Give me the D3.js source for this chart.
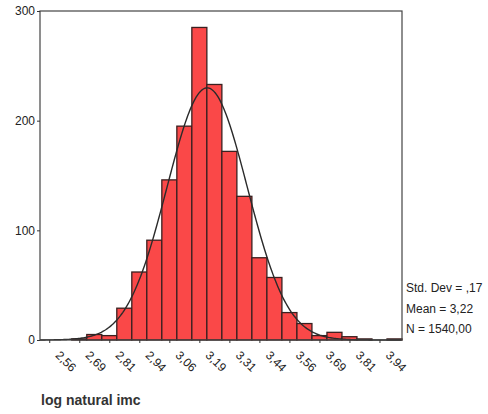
<!DOCTYPE html>
<html>
<head>
<meta charset="utf-8">
<script src="https://cdn.jsdelivr.net/npm/d3@7"></script>
<style>
    body { margin: 0; background: #fff; }
    svg { font-family: Arial, "Liberation Sans", sans-serif; }
    .axis text { fill: #222; font-size: 12px; }
    .axis line { stroke: #333; }
    .axis path { display: none; }
</style>
</head>
<body>
<script>
// histogram bins (centres)
var binCenters = [2.5625, 2.625, 2.6875, 2.75, 2.8125, 2.875, 2.9375, 3.0,
    3.0625, 3.125, 3.1875, 3.25, 3.3125, 3.375, 3.4375, 3.5, 3.5625, 3.625,
    3.6875, 3.75, 3.8125, 3.875, 3.9375, 4.0];
var counts = [0, 0, 1, 5, 4, 29, 62, 91, 146, 195, 285, 233, 172, 131,
    75, 57, 25, 15, 4, 7, 3, 1, 0, 1];
var tickValues = [2.5625, 2.6875, 2.8125, 2.9375, 3.0625, 3.1875, 3.3125,
    3.4375, 3.5625, 3.6875, 3.8125, 3.9375];
var tickLabels = ['2,56', '2,69', '2,81', '2,94', '3,06', '3,19', '3,31',
    '3,44', '3,56', '3,69', '3,81', '3,94'];
var yTicks = [0, 100, 200, 300];
var statLines = ['Std. Dev = ,17', 'Mean = 3,22', 'N = 1540,00'];
var stdDev = 0.167,
    mean = 3.22,
    n = 1540,
    binWidth = 0.0625;

(function() {
    var w = 488,
        h = 414;
    var left = 40, right = 402, top = 11, bottom = 340;

    var svg = d3.select('body')
        .append('svg')
        .attr('width', w)
        .attr('height', h);
    svg.append('rect')
        .attr('width', w)
        .attr('height', h)
        .attr('fill', '#fff');

    var x = d3.scaleLinear()
        .domain([2.524, 4.03125])
        .range([left, right]);
    var y = d3.scaleLinear()
        .domain([0, 300])
        .range([bottom, top]);

    // bars
    svg.append('g')
        .selectAll('rect')
        .data(counts)
        .enter()
        .append('rect')
        .attr('x', function(d, i) { return x(binCenters[i] - binWidth / 2); })
        .attr('width', function(d, i) { return x(binCenters[i] + binWidth / 2) - x(binCenters[i] - binWidth / 2); })
        .attr('y', function(d) { return y(d); })
        .attr('height', function(d) { return y(0) - y(d); })
        .attr('fill', '#fa4848')
        .attr('stroke', '#3a2020')
        .attr('stroke-width', 1.3);

    // normal curve from the stats shown on the right
    var pdf = function(v) {
        return n * binWidth * Math.exp(-0.5 * Math.pow((v - mean) / stdDev, 2)) /
            (stdDev * Math.sqrt(2 * Math.PI));
    };
    var xs = d3.range(x.domain()[0], x.domain()[1], 0.005);
    svg.append('path')
        .datum(xs)
        .attr('d', d3.line()
            .x(function(d) { return x(d); })
            .y(function(d) { return y(pdf(d)); }))
        .attr('fill', 'none')
        .attr('stroke', '#2a2a2a')
        .attr('stroke-width', 1.4);

    // frame
    svg.append('rect')
        .attr('x', left)
        .attr('y', top)
        .attr('width', right - left)
        .attr('height', bottom - top)
        .attr('fill', 'none')
        .attr('stroke', '#444')
        .attr('stroke-width', 1.2);

    // y axis
    svg.append('g')
        .attr('class', 'axis')
        .attr('transform', 'translate(' + left + ',0)')
        .call(d3.axisLeft(y).tickValues(yTicks).tickSize(3).tickPadding(2));

    // x axis, rotated labels
    var xAxis = svg.append('g')
        .attr('class', 'axis')
        .attr('transform', 'translate(0,' + bottom + ')')
        .call(d3.axisBottom(x)
            .tickValues(tickValues)
            .tickSize(3)
            .tickFormat(function(d, i) { return tickLabels[i]; }));
    xAxis.selectAll('text')
        .attr('y', 0)
        .attr('dy', 0)
        .attr('text-anchor', 'start')
        .attr('transform', 'translate(5,16) rotate(45)');

    // stats
    svg.append('g')
        .selectAll('text')
        .data(statLines)
        .enter()
        .append('text')
        .attr('x', 406)
        .attr('y', function(d, i) { return 292 + i * 20.5; })
        .attr('font-size', 12)
        .attr('fill', '#222')
        .text(function(d) { return d; });

    svg.append('text')
        .attr('x', 41)
        .attr('y', 405)
        .attr('font-size', 14)
        .attr('font-weight', 'bold')
        .attr('fill', '#333')
        .text('log natural imc');
})();
</script>
</body>
</html>
